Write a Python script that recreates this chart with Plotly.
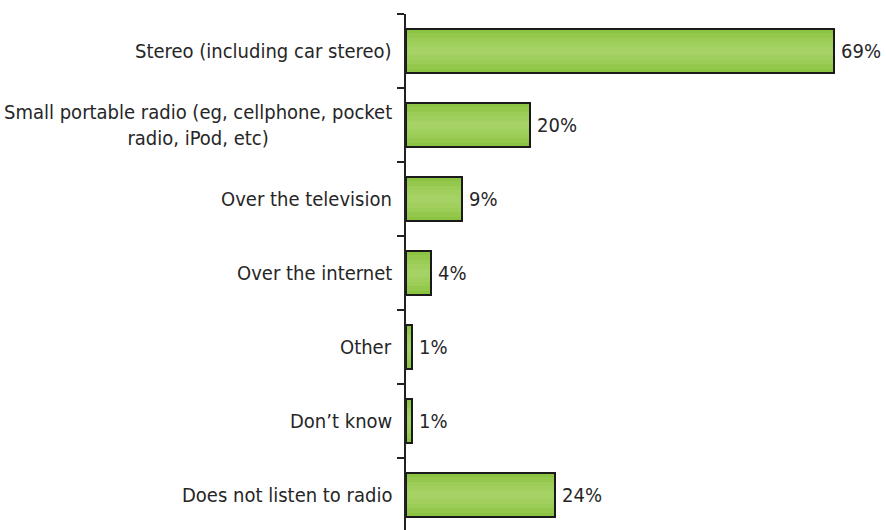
import plotly.graph_objects as go

categories = [
    "Stereo (including car stereo)",
    "Small portable radio (eg, cellphone, pocket<br>radio, iPod, etc)",
    "Over the television",
    "Over the internet",
    "Other",
    "Don\u2019t know",
    "Does not listen to radio",
]
values = [69, 20, 9, 4, 1, 1, 24]
value_labels = ["69%", "20%", "9%", "4%", "1%", "1%", "24%"]

FONT = "DejaVu Sans Condensed"
TEXT_COLOR = "#262626"
FONT_SIZE = 20
BAR_WIDTH = 0.6

idx = list(range(len(categories)))

fig = go.Figure()

# vertical gradient on the bars: darker edges, lighter band in the middle
gradient = [
    (1.00, "#8bc443"),
    (0.80, "#93c84d"),
    (0.60, "#9acc56"),
    (0.40, "#a0cf5e"),
    (0.20, "#a5d265"),
]
for frac, col in gradient:
    fig.add_trace(go.Bar(
        y=idx, x=values, orientation="h",
        width=BAR_WIDTH * frac,
        marker=dict(color=col, line=dict(width=0)),
        hoverinfo="skip", showlegend=False,
    ))

# outline
fig.add_trace(go.Bar(
    y=idx, x=values, orientation="h",
    width=BAR_WIDTH,
    marker=dict(color="rgba(0,0,0,0)", line=dict(color="#1a1a1a", width=2)),
    showlegend=False,
))

# value labels just past the bar ends
for i, (v, t) in enumerate(zip(values, value_labels)):
    fig.add_annotation(
        x=v, xref="x", y=i, yref="y",
        text=t, showarrow=False, xanchor="left", xshift=5,
        font=dict(family=FONT, size=FONT_SIZE, color=TEXT_COLOR),
    )

# category labels, centred per line and right-aligned to the axis
for i, c in enumerate(categories):
    fig.add_annotation(
        x=0, xref="paper", y=i, yref="y",
        text=c, showarrow=False, xanchor="right", xshift=-12,
        align="center",
        font=dict(family=FONT, size=FONT_SIZE, color=TEXT_COLOR),
    )

fig.update_layout(
    width=886, height=530,
    margin=dict(l=406, r=0, t=14, b=0),
    barmode="overlay",
    plot_bgcolor="white", paper_bgcolor="white",
    xaxis=dict(range=[0, 77.4], visible=False, fixedrange=True),
    yaxis=dict(
        type="linear", range=[6.473, -0.5],
        tickmode="array", tickvals=[i - 0.5 for i in range(8)],
        showticklabels=False, ticks="outside", ticklen=7,
        tickcolor="#222222", tickwidth=1.5,
        showline=True, linecolor="#222222", linewidth=1.5,
        showgrid=False, zeroline=False,
    ),
    bargap=0,
)

fig.write_html("out.html")
